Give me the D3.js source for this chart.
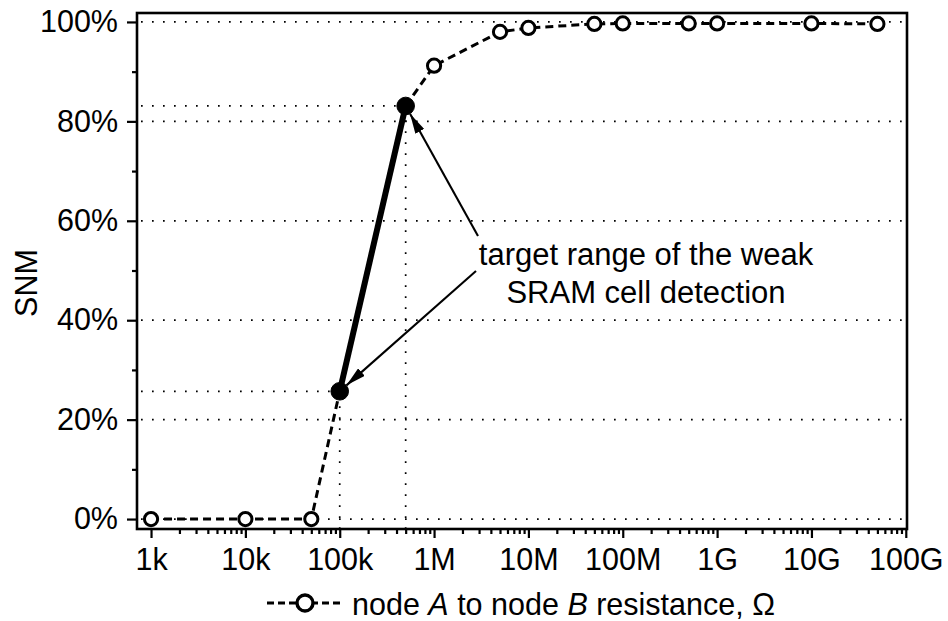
<!DOCTYPE html>
<html><head><meta charset="utf-8">
<script src="https://cdn.jsdelivr.net/npm/d3@7"></script>
<style>
html,body{margin:0;padding:0;background:#fff;}
svg{display:block;font-family:"Liberation Sans",Arial,sans-serif;}
</style></head>
<body>
<svg id="c" width="948" height="621"></svg>
<script>
// ---- data ----
const resistance = [1e3, 1e4, 5e4, 1e5, 5e5, 1e6, 5e6, 1e7, 5e7, 1e8, 5e8, 1e9, 1e10, 5e10];
const snm        = [0,   0,   0,   25.7, 83.1, 91.2, 98.0, 98.8, 99.6, 99.7, 99.7, 99.7, 99.7, 99.6];
const targetIdx  = [3, 4];               // indices of the weak-cell target range (100k, 500k)
const xTickValues = [1e3, 1e4, 1e5, 1e6, 1e7, 1e8, 1e9, 1e10, 1e11];
const xTickLabels = ["1k", "10k", "100k", "1M", "10M", "100M", "1G", "10G", "100G"];
const yTickValues = [0, 20, 40, 60, 80, 100];
const yMinorValues = [10, 30, 50, 70, 90];
const annotationLines = ["target range of the weak", "SRAM cell detection"];

// ---- layout ----
const L = 137, R = 907, T = 13, B = 529;
const svg = d3.select("#c");
const x = d3.scaleLog().domain([710, 1.03e11]).range([L, R]);
const y = d3.scaleLinear().domain([-2, 101.8]).range([B, T]);
const FS = 30.5;

// gridlines (dotted)
const grid = svg.append("g").attr("stroke", "#000").attr("stroke-width", 1.7)
  .attr("stroke-dasharray", "1.7,9.3").attr("fill", "none");
yTickValues.forEach(v => {
  grid.append("line").attr("x1", L + 4).attr("x2", R).attr("y1", y(v)).attr("y2", y(v));
});
// target range reference lines
targetIdx.forEach(i => {
  grid.append("line").attr("x1", L + 4).attr("x2", x(resistance[i]))
    .attr("y1", y(snm[i])).attr("y2", y(snm[i]));
  grid.append("line").attr("x1", x(resistance[i])).attr("x2", x(resistance[i]))
    .attr("y1", B).attr("y2", y(snm[i]));
});

// axes
const yAxis = d3.axisLeft(y).tickValues(yTickValues).tickFormat(d => d + "%")
  .tickSizeInner(10).tickSizeOuter(0).tickPadding(9);
const gy = svg.append("g").attr("transform", `translate(${L},0)`).call(yAxis);
const yMinor = d3.axisLeft(y).tickValues(yMinorValues).tickFormat("").tickSizeInner(5).tickSizeOuter(0);
const gy2 = svg.append("g").attr("transform", `translate(${L},0)`).call(yMinor);

const xMinorVals = x.ticks(80).filter(v => v >= 1e3 && v <= 1e11 && !xTickValues.includes(v));
const xAxis = d3.axisBottom(x).tickValues(xTickValues)
  .tickFormat((d, i) => xTickLabels[i]).tickSizeInner(9).tickSizeOuter(0).tickPadding(10);
const gx = svg.append("g").attr("transform", `translate(0,${B})`).call(xAxis);
const xMinor = d3.axisBottom(x).tickValues(xMinorVals).tickFormat("").tickSizeInner(5).tickSizeOuter(0);
const gx2 = svg.append("g").attr("transform", `translate(0,${B})`).call(xMinor);

[gy, gy2, gx, gx2].forEach(g => {
  g.select(".domain").remove();
  g.selectAll("line").attr("stroke", "#000").attr("stroke-width", 2.2);
  g.selectAll("text").attr("font-size", FS).attr("fill", "#000")
    .attr("font-family", "'Liberation Sans',Arial,sans-serif");
});

// frame
svg.append("rect").attr("x", L).attr("y", T).attr("width", R - L).attr("height", B - T)
  .attr("fill", "none").attr("stroke", "#000").attr("stroke-width", 2.6);

// dashed curve segments (excluding the target range, drawn solid)
const pts = resistance.map((r, i) => [x(r), y(snm[i])]);
const line = d3.line();
const lo = targetIdx[0], hi = targetIdx[1];
svg.append("path").attr("d", line(pts.slice(0, lo + 1)))
  .attr("fill", "none").attr("stroke", "#000").attr("stroke-width", 3).attr("stroke-dasharray", "8,5");
svg.append("path").attr("d", line(pts.slice(hi)))
  .attr("fill", "none").attr("stroke", "#000").attr("stroke-width", 3).attr("stroke-dasharray", "8,5");
svg.append("path").attr("d", line(pts.slice(lo, hi + 1)))
  .attr("fill", "none").attr("stroke", "#000").attr("stroke-width", 6);

// markers
pts.forEach((p, i) => {
  const filled = targetIdx.includes(i);
  svg.append("circle").attr("cx", p[0]).attr("cy", p[1]).attr("r", filled ? 8.8 : 6.6)
    .attr("fill", filled ? "#000" : "#fff").attr("stroke", "#000").attr("stroke-width", filled ? 1 : 3);
});

// annotation
const ann = svg.append("text").attr("font-size", 31).attr("text-anchor", "middle").attr("fill", "#000");
annotationLines.forEach((t, i) => {
  ann.append("tspan").attr("x", 646).attr("y", 265 + i * 38).text(t);
});
svg.append("defs").append("marker").attr("id", "ah").attr("viewBox", "0 0 20 10")
  .attr("refX", 20).attr("refY", 5).attr("markerWidth", 20).attr("markerHeight", 10)
  .attr("markerUnits", "userSpaceOnUse").attr("orient", "auto")
  .append("path").attr("d", "M0,0 L20,5 L0,10 Z").attr("fill", "#000");
const annStarts = [[478, 236], [476, 271]];
targetIdx.slice().reverse().forEach((idx, k) => {
  const p = pts[idx];
  const s = annStarts[k];
  const dx = s[0] - p[0], dy = s[1] - p[1], d = Math.hypot(dx, dy);
  const off = 9;
  svg.append("line").attr("x1", s[0]).attr("y1", s[1])
    .attr("x2", p[0] + dx / d * off).attr("y2", p[1] + dy / d * off)
    .attr("stroke", "#000").attr("stroke-width", 2.1).attr("marker-end", "url(#ah)");
});

// y title
svg.append("text").attr("transform", "translate(37,283) rotate(-90)")
  .attr("text-anchor", "middle").attr("font-size", FS).attr("fill", "#000").text("SNM");

// x title with legend symbol
const lg = svg.append("g");
lg.append("line").attr("x1", 267).attr("x2", 342).attr("y1", 603).attr("y2", 603)
  .attr("stroke", "#000").attr("stroke-width", 3).attr("stroke-dasharray", "7,4");
lg.append("circle").attr("cx", 305).attr("cy", 603).attr("r", 8)
  .attr("fill", "#fff").attr("stroke", "#000").attr("stroke-width", 3.4);
const xt = svg.append("text").attr("x", 352).attr("y", 615).attr("font-size", FS).attr("fill", "#000");
xt.append("tspan").text("node ");
xt.append("tspan").attr("font-style", "italic").text("A");
xt.append("tspan").text(" to node ");
xt.append("tspan").attr("font-style", "italic").text("B");
xt.append("tspan").text(" resistance, \u03A9");
</script>
</body></html>
